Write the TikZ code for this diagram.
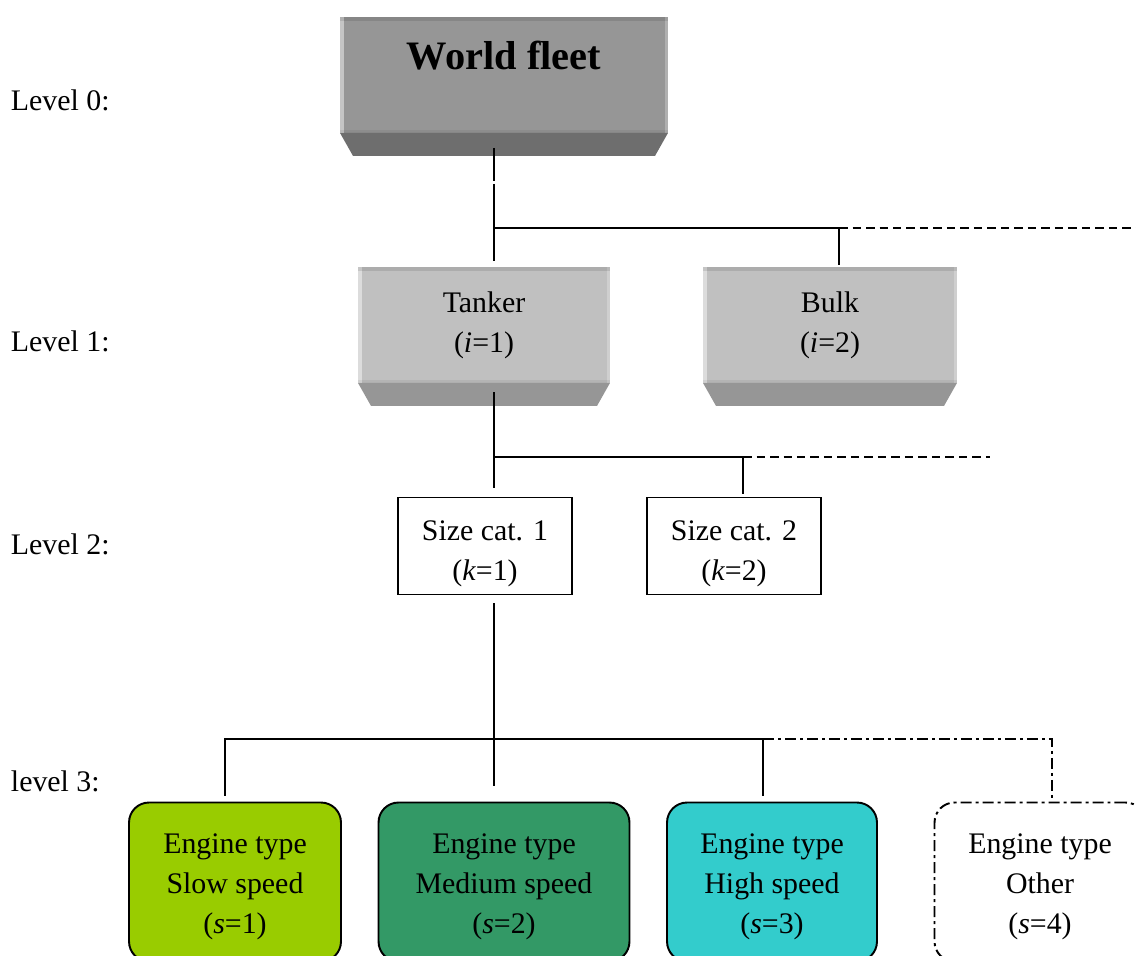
\documentclass[tikz,border=0pt]{standalone}
\usepackage{fontspec}
\setmainfont{Liberation Serif}
\usetikzlibrary{positioning}
\definecolor{slowc}{HTML}{99CC00}
\definecolor{medc}{HTML}{339966}
\definecolor{highc}{HTML}{33CCCC}
\definecolor{wfface}{HTML}{969696}
\definecolor{wfbevel}{HTML}{6E6E6E}
\definecolor{stface}{HTML}{C0C0C0}
\definecolor{stbevel}{HTML}{969696}
\newcommand{\sizestrut}{\rule{0pt}{20.5pt}}
\newcommand{\enginestrut}{\rule{0pt}{16.7pt}}

\begin{document}
\begin{tikzpicture}[x=0.02cm, y=-0.02cm, line width=1.1pt, font=\fontsize{17}{22.8}\selectfont,
    fleet/.style={rectangle, fill=wfface, minimum width=6.56cm, minimum height=2.32cm, inner sep=0pt, outer sep=0pt},
    shiptype/.style={rectangle, fill=stface, minimum width=5.04cm, minimum height=2.32cm, inner sep=0pt, outer sep=0pt, align=center},
    sizecat/.style={rectangle, draw, minimum width=3.48cm, minimum height=1.94cm, align=center},
    engine/.style={rectangle, draw, rounded corners=0.4cm, minimum width=4.22cm, minimum height=3.18cm, align=center},
    level/.style={anchor=base west, inner sep=0pt},
    dashline/.style={dash pattern=on 0.17cm off 0.1cm},
    dashdotline/.style={dash pattern=on 0.22cm off 0.08cm on 0.06cm off 0.08cm}]

    \useasboundingbox (0,0) rectangle (1136,956);

    % levels
    \node[level] (lvl0) at (10,111) {Level 0:};
    \node[level] (lvl1) at (10,351) {Level 1:};
    \node[level] (lvl2) at (10,554) {Level 2:};
    \node[level] (lvl3) at (10,791) {level 3:};

    % boxes
    \node[fleet, text depth=0.8cm, font=\fontsize{23}{28}\selectfont\bfseries] (world) at (504,75) {World fleet};
    \node[shiptype] (tanker) at (484,325) {Tanker\\(\textit{i}=1)};
    \node[shiptype, minimum width=5.08cm] (bulk) at (830,325) {Bulk\\(\textit{i}=2)};
    \node[sizecat] (size1) at (485,546) {\sizestrut Size cat. 1\\(\textit{k}=1)};
    \node[sizecat] (size2) at (734,546) {\sizestrut Size cat. 2\\(\textit{k}=2)};
    \node[engine, fill=slowc, minimum width=4.24cm] (slow) at (235,882) {\enginestrut Engine type\\Slow speed\\(\textit{s}=1)};
    \node[engine, fill=medc, minimum width=5.02cm] (medium) at (504,882) {\enginestrut Engine type\\Medium speed\\(\textit{s}=2)};
    \node[engine, fill=highc, minimum width=4.2cm] (high) at (772,882) {\enginestrut Engine type\\High speed\\(\textit{s}=3)};
    \node[engine, dashdotline, fill=white] (other) at (1040,882) {\enginestrut Engine type\\Other\\(\textit{s}=4)};

    % 3d look of the upper boxes
    \foreach \n/\c in {world/wfbevel, tanker/stbevel, bulk/stbevel}{
      \fill[\c] (\n.south west) -- (\n.south east) -- ([xshift=-0.26cm, yshift=-0.46cm]\n.south east) -- ([xshift=0.26cm, yshift=-0.46cm]\n.south west) -- cycle;
      \fill[white, opacity=0.45] (\n.south west) rectangle ([xshift=0.08cm]\n.north west);
      \fill[white, opacity=0.25] (\n.south east) rectangle ([xshift=-0.06cm]\n.north east);
      \fill[black, opacity=0.1] (\n.north west) rectangle ([yshift=-0.07cm]\n.north east);
      \fill[black, opacity=0.06] (\n.south west) rectangle ([yshift=0.05cm]\n.south east);
    }

    % branch points
    \coordinate (t0) at (494,148);
    \coordinate (j0) at (494,228);
    \coordinate (j1) at (839,228);
    \coordinate (e0) at (1136,228);
    \coordinate (t1) at (494,392);
    \coordinate (j2) at (494,457);
    \coordinate (j3) at (743,457);
    \coordinate (e1) at (990,457);
    \coordinate (t2) at (494,603);
    \coordinate (b0) at (225,739);
    \coordinate (b1) at (763,739);
    \coordinate (b2) at (1052,739);

    % level 0 -> 1
    \draw[dash pattern=on 0.66cm off 0.06cm on 4cm, shorten >=0.12cm] (t0) -- (j0 |- tanker.north);
    \draw[shorten >=0.04cm] (j0) -- (j1) -- (j1 |- bulk.north);
    \draw[dashline] (j1) -- (e0);

    % level 1 -> 2
    \draw[shorten >=0.18cm] (t1) -- (j2 |- size1.north);
    \draw[shorten >=0.06cm] (j2) -- (j3) -- (j3 |- size2.north);
    \draw[dashline] (j3) -- (e1);

    % level 2 -> 3
    \draw[shorten >=0.32cm] (t2) -- (t2 |- medium.north);
    \draw[shorten <=0.12cm, shorten >=0.12cm] (b0 |- slow.north) -- (b0) -- (b1) -- (b1 |- high.north);
    \draw[dashdotline, shorten >=0.06cm] (b1) -- (b2) -- (b2 |- other.north);

  \end{tikzpicture}
\end{document}
